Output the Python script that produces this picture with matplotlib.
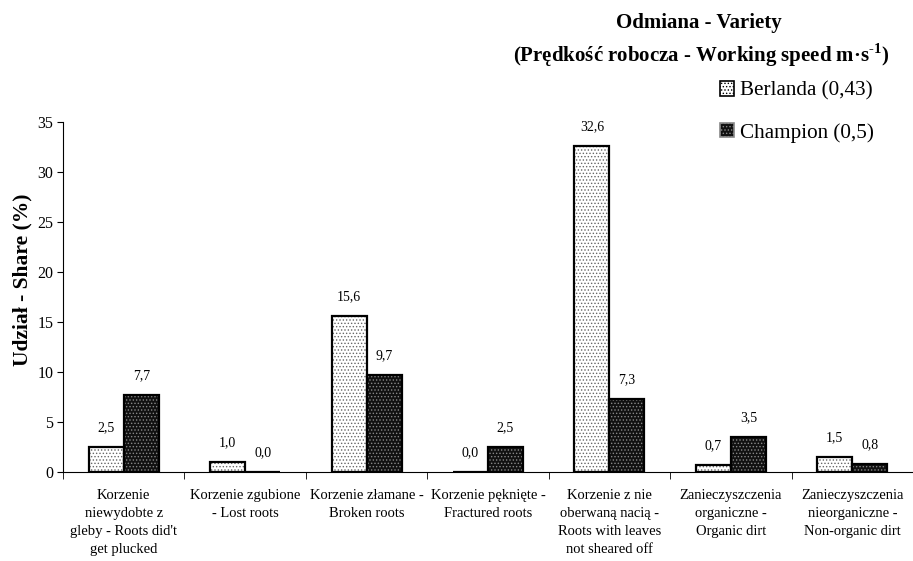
import matplotlib
matplotlib.use("Agg")
import matplotlib.pyplot as plt
import numpy as np
from matplotlib.patches import Patch

plt.rcParams['font.family'] = ['Liberation Serif', 'DejaVu Serif']
plt.rcParams['mathtext.fontset'] = 'custom'
plt.rcParams['mathtext.rm'] = 'Liberation Serif'
plt.rcParams['mathtext.bf'] = 'Liberation Serif:bold'
plt.rcParams['hatch.linewidth'] = 0.6

categories = [
    "Korzenie\nniewydobte z\ngleby - Roots did't\nget plucked",
    "Korzenie zgubione\n- Lost roots",
    "Korzenie złamane -\nBroken roots",
    "Korzenie pęknięte -\nFractured roots",
    "Korzenie z nie\noberwaną nacią -\nRoots with leaves\nnot sheared off",
    "Zanieczyszczenia\norganiczne -\nOrganic dirt",
    "Zanieczyszczenia\nnieorganiczne -\nNon-organic dirt",
]
berlanda = [2.5, 1.0, 15.6, 0.0, 32.6, 0.7, 1.5]
champion = [7.7, 0.0, 9.7, 2.5, 7.3, 3.5, 0.8]
series_names = ["Berlanda (0,43)", "Champion (0,5)"]
yticks = [0, 5, 10, 15, 20, 25, 30, 35]

fig = plt.figure(figsize=(9.13, 5.61), dpi=100)
ax = fig.add_axes([63/913, 1-472/561, 1-63/913, 350/561])

x = np.arange(len(categories))
w = 0.288

def draw(xpos, vals, face, hcol):
    ax.bar(xpos, vals, w, color=face, edgecolor=hcol, hatch='.....', linewidth=0, zorder=2)
    ax.bar(xpos, vals, w, fill=False, edgecolor='black', linewidth=1.6, zorder=3)

draw(x - w/2, berlanda, 'white', '#666666')
draw(x + w/2, champion, '#111111', '#888888')

for xs, vals in ((x - w/2, berlanda), (x + w/2, champion)):
    for xi, v in zip(xs, vals):
        ax.annotate(f"{v:.1f}".replace('.', ','), (xi, v), xytext=(0, 14), textcoords='offset points',
                    ha='center', va='center', fontsize=10)

ax.set_xlim(-0.5, len(categories) - 0.5)
ax.set_ylim(0, 35)
ax.set_yticks(yticks)
ax.tick_params(axis='y', labelsize=11.5, length=4, direction='out', pad=3)
ax.set_xticks(x)
ax.set_xticklabels(categories, fontsize=10.5, linespacing=1.52)
ax.tick_params(axis='x', length=0, pad=12)
ax.set_xticks(np.arange(-0.5, len(categories) + 0.5, 1.0), minor=True)
ax.tick_params(axis='x', which='minor', length=5, direction='out')
for s in ['top', 'right']:
    ax.spines[s].set_visible(False)
ax.spines['left'].set_linewidth(0.8)
ax.spines['bottom'].set_linewidth(0.8)

fig.text(22/913, 1-280/561, "Udział - Share (%)", rotation=90, ha='center', va='center',
         fontsize=15.5, fontweight='bold')

fig.text(699/913, 1-23/561, "Odmiana - Variety", ha='center', va='center', fontsize=15, fontweight='bold')
fig.text(701/913, 1-55/561, "(Prędkość robocza - Working speed m·s$^{\\mathbf{\u2010}\\mathbf{1}}$)",
         ha='center', va='center', fontsize=15, fontweight='bold')

handles = [Patch(facecolor='white', edgecolor='black', hatch='.....', linewidth=1.2),
           Patch(facecolor='#111111', edgecolor='#888888', hatch='.....', linewidth=1.2)]
leg = fig.legend(handles, series_names, loc='upper left', bbox_to_anchor=(720/913, 1-81/561),
                 frameon=False, fontsize=15.2, handlelength=0.68, handleheight=0.68,
                 handletextpad=0.25, labelspacing=1.05, borderpad=0, borderaxespad=0)

fig.savefig("out.png", dpi=100)
